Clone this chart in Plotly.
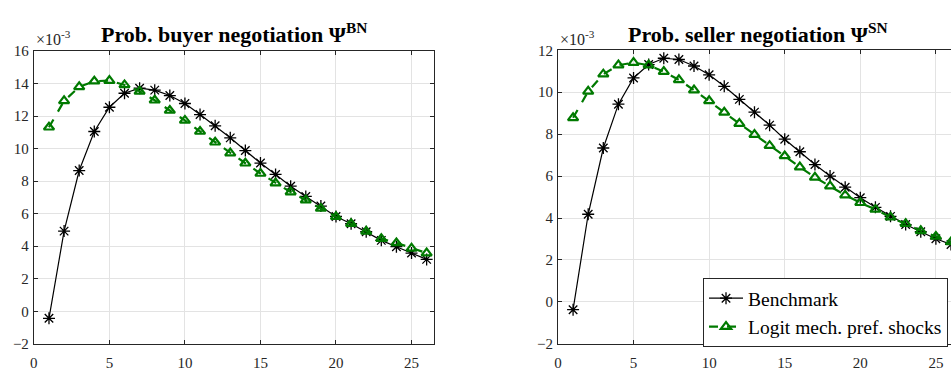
import plotly.graph_objects as go

# Values in units of 1e-3
periods = list(range(1, 27))

buyer_benchmark = [-0.43, 4.93, 8.65, 11.05, 12.54, 13.40, 13.71, 13.59, 13.26, 12.77,
                   12.09, 11.40, 10.66, 9.88, 9.11, 8.41, 7.69, 7.06, 6.47, 5.83,
                   5.38, 4.89, 4.36, 3.97, 3.58, 3.19]
buyer_logit = [11.31, 12.93, 13.79, 14.14, 14.18, 13.91, 13.52, 12.97, 12.34, 11.73,
               11.05, 10.39, 9.72, 9.10, 8.47, 7.88, 7.33, 6.83, 6.32, 5.81,
               5.38, 4.91, 4.46, 4.20, 3.87, 3.58]
seller_benchmark = [-0.37, 4.18, 7.34, 9.43, 10.68, 11.32, 11.62, 11.56, 11.25, 10.83,
                    10.28, 9.66, 9.05, 8.43, 7.76, 7.16, 6.55, 6.00, 5.47, 4.97,
                    4.51, 4.08, 3.69, 3.35, 3.01, 2.74]
seller_logit = [8.78, 10.04, 10.86, 11.29, 11.41, 11.29, 10.98, 10.59, 10.10, 9.59,
                9.04, 8.50, 7.98, 7.45, 6.96, 6.43, 5.94, 5.52, 5.09, 4.73,
                4.41, 4.04, 3.73, 3.39, 3.12, 2.86]

series_names = ["Benchmark", "Logit mech. pref. shocks"]
titles = ["Prob. buyer negotiation Ψ<sup>BN</sup>", "Prob. seller negotiation Ψ<sup>SN</sup>"]
x_ticks = [0, 5, 10, 15, 20, 25]
left_yticks = [-2, 0, 2, 4, 6, 8, 10, 12, 14, 16]
right_yticks = [-2, 0, 2, 4, 6, 8, 10, 12]

W, H = 951, 371
FONT = "Liberation Serif"
AX = "#262626"
GRID = "#e3e3e3"
GREEN = "#007a00"

fig = go.Figure()

def add_pair(bench, logit, xa, ya, show):
    fig.add_trace(go.Scatter(
        x=periods, y=bench, name=series_names[0], xaxis=xa, yaxis=ya,
        mode="lines+markers", showlegend=show,
        line=dict(color="black", width=1.2),
        marker=dict(symbol="asterisk-open", size=10, color="black",
                    line=dict(color="black", width=1.3))))
    fig.add_trace(go.Scatter(
        x=periods, y=logit, name=series_names[1], xaxis=xa, yaxis=ya,
        mode="lines+markers", showlegend=show,
        line=dict(color=GREEN, width=2.2, dash="dash"),
        marker=dict(symbol="triangle-up-open", size=9, color=GREEN,
                    line=dict(color=GREEN, width=2.2))))

add_pair(seller_benchmark, seller_logit, "x2", "y2", True)
add_pair(buyer_benchmark, buyer_logit, "x", "y", False)

def px_x(p):
    return p / W

def px_y(p):
    return (H - p) / H

axis_common = dict(
    showline=True, linecolor=AX, linewidth=1, ticks="inside", ticklen=4,
    tickcolor=AX, tickwidth=1, showgrid=True, gridcolor=GRID, gridwidth=1,
    zeroline=False, tickfont=dict(family=FONT, size=15, color=AX),
)

fig.update_layout(
    width=W, height=H, margin=dict(l=0, r=0, t=0, b=0),
    plot_bgcolor="white", paper_bgcolor="white",
    xaxis=dict(domain=[px_x(30), px_x(432)], range=[0, 26.5], tickvals=x_ticks,
               mirror="allticks", anchor="y", ticklabelstandoff=5, **axis_common),
    yaxis=dict(domain=[px_y(352), px_y(45)], range=[-2, 16], tickvals=left_yticks,
               mirror="allticks", anchor="x", ticklabelstandoff=1, **axis_common),
    xaxis2=dict(domain=[px_x(556.3), 1.0], range=[0, 26.0], tickvals=x_ticks,
                mirror="allticks", anchor="y2", ticklabelstandoff=5, **axis_common),
    yaxis2=dict(domain=[px_y(352), px_y(44.3)], range=[-2, 12], tickvals=right_yticks,
                anchor="x2", ticklabelstandoff=1, **axis_common),
    legend=dict(x=px_x(948), y=px_y(283), xanchor="right", yanchor="top",
                bgcolor="white", bordercolor=AX, borderwidth=1,
                font=dict(family=FONT, size=19.5, color="black"),
                itemwidth=34, traceorder="normal"),
    showlegend=True,
)

# titles
for cx, txt in [(231, titles[0]), (757, titles[1])]:
    fig.add_annotation(x=px_x(cx), y=px_y(43), xref="paper", yref="paper",
                       xanchor="center", yanchor="bottom", showarrow=False,
                       text="<b>" + txt + "</b>",
                       font=dict(family=FONT, size=22, color="black"))

# exponent labels
for lx in [30, 556]:
    fig.add_annotation(x=px_x(lx), y=px_y(44), xref="paper", yref="paper",
                       xanchor="left", yanchor="bottom", showarrow=False,
                       text="×10<sup>-3</sup>",
                       font=dict(family=FONT, size=16, color=AX))

fig.write_html("out.html")
